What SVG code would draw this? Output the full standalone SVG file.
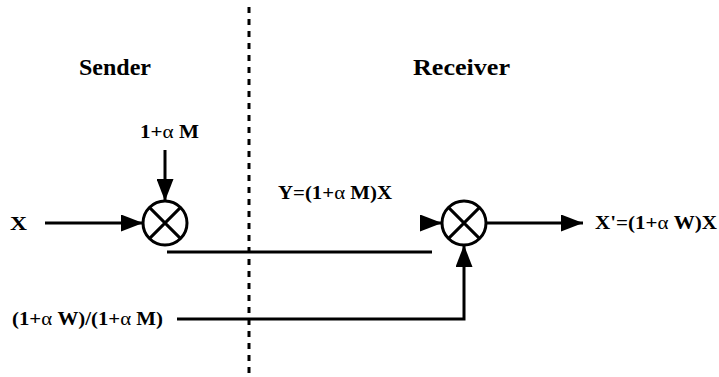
<svg xmlns="http://www.w3.org/2000/svg" width="719" height="377" viewBox="0 0 719 377">
<style>
.t{font-family:"Liberation Serif","Times New Roman",serif;font-weight:bold;fill:#000}
.h{font-size:24px}
.e{font-size:19px}
.a{font-weight:normal}
.ln{stroke:#000;stroke-width:3;fill:none}
.c{stroke:#000;stroke-width:3;fill:#fff}
</style>
<defs>
<marker id="ah" markerUnits="userSpaceOnUse" markerWidth="22" markerHeight="17" refX="22" refY="8.5" orient="auto">
<path d="M0,0 L22,8.5 L0,17 z" fill="#000"/>
</marker>
</defs>
<rect width="719" height="377" fill="#fff"/>
<line x1="249" y1="7" x2="249" y2="377" stroke="#000" stroke-width="3" stroke-dasharray="6 6"/>
<g id="labels">
<text class="t h" x="79" y="75" textLength="72" lengthAdjust="spacingAndGlyphs">Sender</text>
<text class="t h" x="413" y="75" textLength="97" lengthAdjust="spacingAndGlyphs">Receiver</text>
</g>
<g id="connectors">
<line class="ln" x1="45" y1="223" x2="143" y2="223" marker-end="url(#ah)"/>
<line class="ln" x1="165" y1="150" x2="165" y2="201" marker-end="url(#ah)"/>
<line class="ln" x1="167" y1="252" x2="432" y2="252"/>
<line class="ln" x1="420" y1="223" x2="442" y2="223" marker-end="url(#ah)"/>
<line class="ln" x1="486" y1="223" x2="583" y2="223" marker-end="url(#ah)"/>
<polyline class="ln" points="177,319 464,319 464,245" marker-end="url(#ah)"/>
</g>
<g id="mult1">
<circle class="c" cx="165" cy="223" r="22"/>
<path class="ln" d="M149.4,207.4 L180.6,238.6 M180.6,207.4 L149.4,238.6"/>
</g>
<g id="mult2">
<circle class="c" cx="464" cy="223" r="22"/>
<path class="ln" d="M448.4,207.4 L479.6,238.6 M479.6,207.4 L448.4,238.6"/>
</g>
<g id="texts">
<text class="t e" x="140" y="138" textLength="59" lengthAdjust="spacingAndGlyphs">1+<tspan class="a">α</tspan> M</text>
<text class="t e" x="10" y="230" textLength="17" lengthAdjust="spacingAndGlyphs">X</text>
<text class="t e" x="278" y="199" textLength="114" lengthAdjust="spacingAndGlyphs">Y=(1+<tspan class="a">α</tspan> M)X</text>
<text class="t e" x="595" y="229" textLength="122" lengthAdjust="spacingAndGlyphs">X'=(1+<tspan class="a">α</tspan> W)X</text>
<text class="t e" x="12" y="325" textLength="151" lengthAdjust="spacingAndGlyphs">(1+<tspan class="a">α</tspan> W)/(1+<tspan class="a">α</tspan> M)</text>
</g>
</svg>
